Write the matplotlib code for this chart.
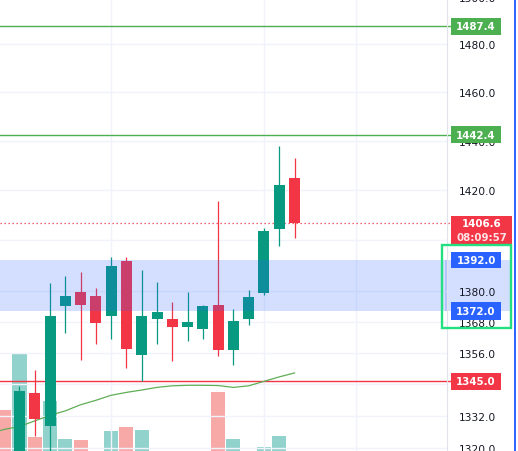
import matplotlib
matplotlib.use('Agg')
import matplotlib.pyplot as plt
from matplotlib.patches import Rectangle
from matplotlib.lines import Line2D
from matplotlib.ticker import FixedLocator, NullLocator, FuncFormatter, NullFormatter
from matplotlib.transforms import blended_transform_factory

plt.rcParams['font.family'] = ['DejaVu Sans']

# ---------------- data ----------------
candle_idx = list(range(19))
opens  = [1316.0, 1340.6, 1327.9, 1374.1, 1379.5, 1378.0, 1370.3, 1391.7, 1354.9, 1369.1,
          1369.0, 1366.0, 1365.3, 1374.6, 1357.1, 1369.0, 1379.3, 1404.5, 1424.8]
highs  = [1343.4, 1349.4, 1383.1, 1385.9, 1387.4, 1381.0, 1393.3, 1393.3, 1388.2, 1383.5,
          1375.7, 1379.5, 1374.5, 1415.6, 1372.9, 1380.3, 1404.8, 1437.9, 1432.9]
lows   = [1312.0, 1324.5, 1314.0, 1363.7, 1353.3, 1359.5, 1361.4, 1350.2, 1345.0, 1359.5,
          1352.9, 1360.6, 1361.4, 1354.6, 1351.4, 1366.8, 1378.4, 1397.8, 1400.9]
closes = [1341.4, 1330.9, 1370.2, 1378.0, 1374.6, 1367.6, 1389.7, 1357.5, 1370.2, 1371.9,
          1366.0, 1367.8, 1374.1, 1357.1, 1368.2, 1377.6, 1403.6, 1422.0, 1406.6]

vol_idx = list(range(-1, 19))
vol_k = [49, 106, 22, 58, 20, 19, 4, 28, 32, 29, 5, 6, 4, 6, 67, 20, 6, 12, 23, 5]
vol_up = [False, True, False, True, True, False, False, True, False, True,
          True, False, True, True, False, True, True, True, True, False]

ma_idx = list(range(-2, 19))
ma_vals = [1325.1, 1326.8, 1327.9, 1330.0, 1332.1, 1333.8, 1336.1, 1337.8, 1339.7, 1340.8,
           1341.7, 1342.7, 1343.3, 1343.5, 1343.5, 1343.4, 1342.7, 1343.3, 1345.0, 1346.7, 1348.2]

resistance_levels = [1487.4, 1442.4]
support_level = 1345.0
last_price = 1406.6
countdown = "08:09:57"
zone_low, zone_high = 1372.0, 1392.0
price_ticks = [1320, 1332, 1344, 1356, 1368, 1380, 1400, 1420, 1440, 1460, 1480, 1500]
vgrid_idx = [6, 16, 22]

# ---------------- colours ----------------
UP = '#089981'
DOWN = '#F23645'
VOL_UP = '#92D2CC'
VOL_DOWN = '#F7A9A7'
GRID = '#F0F3FA'
LEVEL_GREEN = '#4CAF50'
ZONE_BLUE = '#2962FF'
TEXT = '#131722'

W, H = 518, 452
fig = plt.figure(figsize=(W / 100, H / 100), dpi=100)
fig.patch.set_facecolor('white')
plot_w = 447
rect = [0, 0, plot_w / W, 1]

axv = fig.add_axes(rect, zorder=1)
ax = fig.add_axes(rect, zorder=2, sharex=axv)
ax.patch.set_alpha(0)

# volume
axv.bar(vol_idx, vol_k, width=0.92,
        color=[VOL_UP if u else VOL_DOWN for u in vol_up], linewidth=0)
axv.set_ylim(8, 460)
axv.axis('off')

# price axes
ax.set_yscale('log')
ax.set_xlim(-1.276, 27.98)
ax.set_ylim(1318.7, 1499.0)

ax.yaxis.set_major_locator(FixedLocator(price_ticks))
ax.yaxis.set_minor_locator(NullLocator())
ax.yaxis.set_major_formatter(FuncFormatter(lambda v, p: f'{v:.1f}'))
ax.yaxis.set_minor_formatter(NullFormatter())
ax.yaxis.tick_right()
ax.tick_params(axis='y', length=0, pad=8.5, labelsize=7.7, labelcolor=TEXT)
ax.set_xticks(vgrid_idx)
ax.tick_params(axis='x', length=0, labelbottom=False)
ax.grid(True, color=GRID, linewidth=1)
ax.set_axisbelow(True)
for s in ['top', 'left', 'bottom']:
    ax.spines[s].set_visible(False)
ax.spines['right'].set_color('#E0E3EB')
ax.spines['right'].set_linewidth(0.8)

# horizontal levels
ext = 451 / plot_w
for lv in resistance_levels:
    ax.axhline(lv, color=LEVEL_GREEN, lw=1.0, xmax=ext, clip_on=False, zorder=2)
ax.axhline(support_level, color=DOWN, lw=1.0, xmax=ext, clip_on=False, zorder=2)
ax.axhline(last_price, color=DOWN, lw=0.9, ls=(0, (1, 2.2)), xmax=ext, clip_on=False, zorder=2)

# moving average
ax.plot(ma_idx, ma_vals, color='#5FAE55', lw=0.9, zorder=2.5)

# candles
for i, o, h, l, c in zip(candle_idx, opens, highs, lows, closes):
    col = UP if c >= o else DOWN
    ax.vlines(i, l, h, color=col, lw=0.9, zorder=3)
    lo, hi = min(o, c), max(o, c)
    ax.bar(i, hi - lo, bottom=lo, width=0.72, color=col, linewidth=0, zorder=3.5)

# zone band
ax.axhspan(zone_low, zone_high, color=ZONE_BLUE, alpha=0.2, linewidth=0, zorder=5)

# ---------------- right side labels ----------------
blend = blended_transform_factory(fig.transFigure, ax.transData)
ax.text(478 / W, 1500, '1500.0', transform=blend, ha='center', va='center_baseline',
        fontsize=7.7, color=TEXT, clip_on=False)


def ypx(price):
    return ax.transData.transform((0, price))[1] * H / fig.bbox.height


def label_box(price, text, fc, x0=451, x1=501, h=17, extra_below=0, second=None):
    yc = ypx(price)
    fig.add_artist(Rectangle((x0 / W, (yc - h / 2 - extra_below) / H), (x1 - x0) / W,
                             (h + extra_below) / H, transform=fig.transFigure,
                             facecolor=fc, edgecolor='none', zorder=5))
    fig.text((x0 + x1) / 2 / W, yc / H, text, ha='center', va='center', color='white',
             fontsize=7.4, fontweight='bold', zorder=6)
    if second is not None:
        fig.text((x0 + x1) / 2 / W, (yc - 14) / H, second, ha='center', va='center',
                 color='#FFE3E6', fontsize=7.4, fontweight='bold', zorder=6)


# zone band on the price scale
yz_hi, yz_lo = ypx(zone_high), ypx(zone_low)
fig.add_artist(Rectangle((445 / W, yz_lo / H), 65 / W, (yz_hi - yz_lo) / H,
                         transform=fig.transFigure, facecolor=ZONE_BLUE, alpha=0.2,
                         edgecolor='none', zorder=-1))

for lv in resistance_levels:
    label_box(lv, f'{lv:.1f}', LEVEL_GREEN)
label_box(last_price, f'{last_price:.1f}', DOWN, x0=451, x1=512, h=15, extra_below=14,
          second=countdown)
label_box(zone_high, f'{zone_high:.1f}', ZONE_BLUE, h=16)
label_box(zone_low, f'{zone_low:.1f}', ZONE_BLUE, h=18)
label_box(support_level, f'{support_level:.1f}', DOWN, h=17)

# selection outline around zone labels
fig.add_artist(Rectangle((442 / W, (yz_lo - 16.5) / H), 69 / W, (yz_hi - yz_lo + 31.5) / H,
                         transform=fig.transFigure, fill=False, edgecolor='#22E07F',
                         linewidth=1.7, zorder=7))

# right edge blue line
fig.add_artist(Line2D([515 / W, 515 / W], [0, 1], transform=fig.transFigure,
                      color=ZONE_BLUE, lw=1.4, zorder=7))

fig.savefig('out.png', dpi=100, facecolor='white')
